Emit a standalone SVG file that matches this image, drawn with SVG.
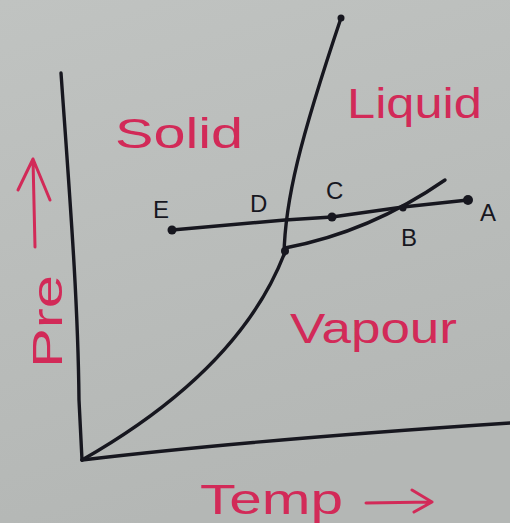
<svg xmlns="http://www.w3.org/2000/svg" width="510" height="523" viewBox="0 0 510 523">
<defs>
<linearGradient id="bg" x1="0" y1="0" x2="0.3" y2="1">
<stop offset="0" stop-color="#c0c3c1"/>
<stop offset="1" stop-color="#b4b7b5"/>
</linearGradient>
<style>
.ln{fill:none;stroke:#17171f;stroke-width:3.4;stroke-linecap:round;stroke-linejoin:round}
.rd{fill:none;stroke:#d22a58;stroke-width:3;stroke-linecap:round;stroke-linejoin:round}
.dot{fill:#17171f}
.lb{font-family:"Liberation Sans",Arial,sans-serif;fill:#17171f;font-size:24px}
.rt{font-family:"Liberation Sans",Arial,sans-serif;fill:#d22a58;font-size:42px}
</style>
</defs>
<rect width="510" height="523" fill="url(#bg)"/>
<g id="connectors">
<path class="ln" d="M61,73 C70,200 78,300 79,400 L82,460"/>
<path class="ln" d="M82,460 Q250,440 510,423"/>
<path class="ln" d="M82,460 Q240,370 285,252"/>
<path class="ln" d="M284,255 C285,200 300,140 341,18"/>
<path class="ln" d="M285,248 Q370,232 445,180"/>
<path class="ln" d="M172,230 L285,220 L332,217 L403,207 L468,200"/>
</g>
<g id="node-top"><circle class="dot" cx="341" cy="18" r="3.5"/></g>
<g id="node-triple"><circle class="dot" cx="285" cy="251" r="4"/></g>
<g id="node-E"><circle class="dot" cx="172" cy="230" r="4.5"/><text class="lb" x="153" y="218">E</text></g>
<g id="node-D"><text class="lb" x="250" y="212">D</text></g>
<g id="node-C"><circle class="dot" cx="332" cy="217" r="4.5"/><text class="lb" x="326" y="199">C</text></g>
<g id="node-B"><circle class="dot" cx="403" cy="208" r="3.5"/><text class="lb" x="401" y="246">B</text></g>
<g id="node-A"><circle class="dot" cx="468" cy="200" r="5"/><text class="lb" x="480" y="221">A</text></g>
<g id="labels">
<text class="rt" x="115" y="148" textLength="128" lengthAdjust="spacingAndGlyphs">Solid</text>
<text class="rt" x="347" y="118" font-size="40" textLength="135" lengthAdjust="spacingAndGlyphs">Liquid</text>
<text class="rt" x="290" y="343" textLength="167" lengthAdjust="spacingAndGlyphs">Vapour</text>
<text class="rt" x="200" y="514" font-size="36" textLength="143" lengthAdjust="spacingAndGlyphs">Temp</text>
<text class="rt" transform="translate(62,368) rotate(-90)" font-size="40" textLength="93" lengthAdjust="spacingAndGlyphs">Pre</text>
<path class="rd" d="M366,503 L432,502 M412,490 L432,502 L414,512"/>
<path class="rd" d="M35,247 L33,159 M18,190 L33,159 L50,200"/>
</g>
</svg>
